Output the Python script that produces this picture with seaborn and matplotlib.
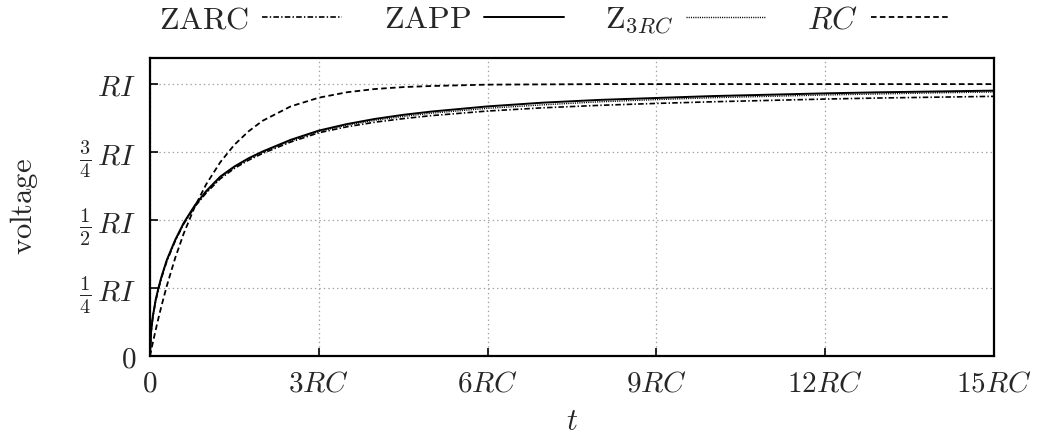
import numpy as np
import pandas as pd
import matplotlib
matplotlib.use("Agg")
import matplotlib.pyplot as plt
import seaborn as sns

# ---- data ----
t = [0, 0.02, 0.05, 0.1, 0.15, 0.2, 0.3, 0.45, 0.6, 0.8, 1.0, 1.25, 1.5, 1.75,
     2.0, 2.5, 3.0, 3.5, 4.0, 4.5, 5.0, 6.0, 7.0, 8.0, 9.0, 10, 11, 12, 13, 14, 15]

zarc = [0, 0.088, 0.142, 0.201, 0.245, 0.284, 0.349, 0.424, 0.486, 0.55, 0.6,
        0.652, 0.69, 0.72, 0.745, 0.787, 0.821, 0.843, 0.86, 0.873, 0.884,
        0.901, 0.913, 0.922, 0.929, 0.935, 0.94, 0.945, 0.949, 0.952, 0.955]

zapp = [0, 0.092, 0.146, 0.206, 0.25, 0.289, 0.354, 0.428, 0.49, 0.555, 0.607,
        0.66, 0.697, 0.727, 0.752, 0.795, 0.829, 0.853, 0.872, 0.887, 0.899,
        0.918, 0.932, 0.942, 0.949, 0.956, 0.961, 0.966, 0.970, 0.973, 0.976]

z3rc = [0, 0.09, 0.144, 0.204, 0.248, 0.287, 0.352, 0.426, 0.488, 0.552, 0.603,
        0.656, 0.694, 0.724, 0.749, 0.791, 0.826, 0.849, 0.867, 0.881, 0.893,
        0.911, 0.924, 0.935, 0.943, 0.95, 0.955, 0.96, 0.964, 0.968, 0.971]

rc = [0, 0.02, 0.049, 0.095, 0.139, 0.181, 0.259, 0.362, 0.451, 0.551, 0.632,
      0.713, 0.777, 0.826, 0.865, 0.918, 0.95, 0.97, 0.982, 0.989, 0.993,
      0.998, 0.999, 1.0, 1.0, 1.0, 1.0, 1.0, 1.0, 1.0, 1.0]

series_labels = [r"$\mathrm{ZARC}$", r"$\mathrm{ZAPP}$", r"$\mathrm{Z}_{3RC}$", r"$RC$"]

xticks = [0, 3, 6, 9, 12, 15]
xtick_labels = [r"$0$", r"$3RC$", r"$6RC$", r"$9RC$", r"$12RC$", r"$15RC$"]
yticks = [0, 0.25, 0.5, 0.75, 1.0]
ytick_labels = [r"$0$", r"$\frac{1}{4}\,RI$", r"$\frac{1}{2}\,RI$",
                r"$\frac{3}{4}\,RI$", r"$RI$"]

# ---- style ----
sns.set_theme(style="white")
plt.rcParams["mathtext.fontset"] = "cm"
plt.rcParams["font.family"] = ["DejaVu Serif"]
plt.rcParams["lines.scale_dashes"] = False

fig = plt.figure(figsize=(10.37, 4.44), dpi=100)
ax = fig.add_axes([150 / 1037, 88 / 444, 844 / 1037, 298 / 444])

styles = [
    dict(lw=1.2, ls=(0, (4.0, 1.6, 1.0, 1.6))),
    dict(lw=1.4, ls="-"),
    dict(lw=1.0, ls=(0, (0.8, 0.8))),
    dict(lw=1.3, ls=(0, (4.0, 2.4))),
]
for vals, lab, st in zip([zarc, zapp, z3rc, rc], series_labels, styles):
    df = pd.DataFrame({"t": t, "v": vals})
    sns.lineplot(data=df, x="t", y="v", ax=ax, color="black", label=lab,
                 estimator=None, **st)

ax.set_xlim(0, 15)
ax.set_ylim(0, 1.096)
ax.set_xticks(xticks)
ax.set_xticklabels(xtick_labels)
ax.set_yticks(yticks)
ax.set_yticklabels(ytick_labels)
ax.tick_params(axis="both", direction="in", length=6, width=1.2, color="black",
               labelsize=21, pad=10, bottom=True, left=True)
ax.grid(True, color="#a0a0a0", lw=0.9, ls=(0, (1.0, 2.2)))
for s in ax.spines.values():
    s.set_color("black")
    s.set_linewidth(1.6)

ax.set_xlabel(r"$t$", fontsize=22, labelpad=6)
ax.set_ylabel(r"$\mathrm{voltage}$", fontsize=22, labelpad=28)

ax.legend(loc="center", bbox_to_anchor=(555 / 1037, 1 - 20 / 444),
          bbox_transform=fig.transFigure, ncol=4, frameon=False,
          markerfirst=False, handlelength=2.5, handletextpad=0.4,
          columnspacing=1.3, fontsize=23)

fig.savefig("out.png", dpi=100)
